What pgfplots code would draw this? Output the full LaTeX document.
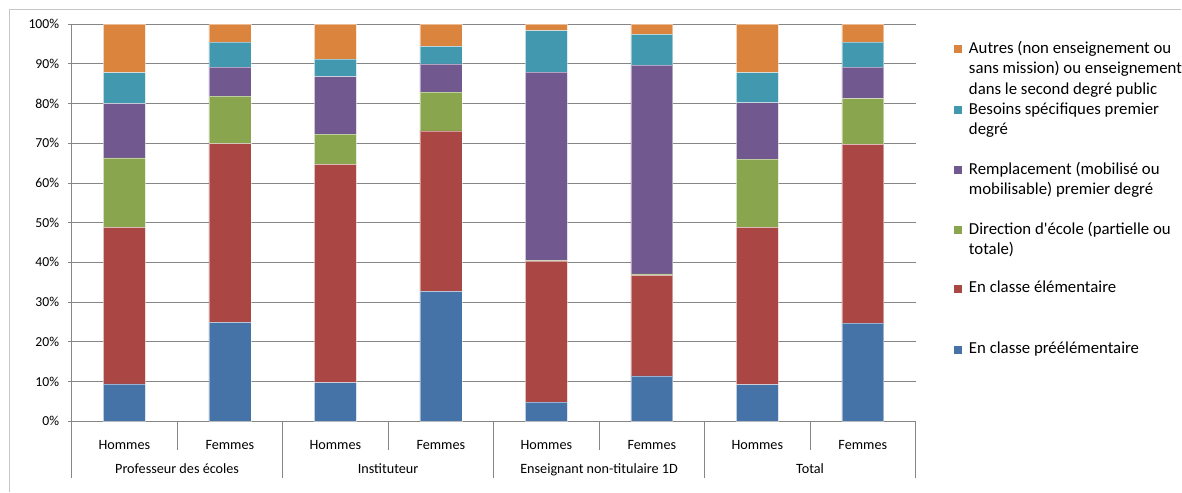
\documentclass[border=0pt]{standalone}
\usepackage{pgfplots}
\usepackage{pgfplotstable}
\pgfplotsset{compat=1.18}
\usepackage{fontspec}
\setmainfont{Carlito}

\definecolor{cBlue}{HTML}{4572A7}
\definecolor{cRed}{HTML}{AA4643}
\definecolor{cGreen}{HTML}{89A54E}
\definecolor{cPurple}{HTML}{71588F}
\definecolor{cTeal}{HTML}{4198AF}
\definecolor{cOrange}{HTML}{DB843D}
\definecolor{axgray}{HTML}{868686}

% pre, elem, direction, remplacement, besoins, autres
\pgfplotstableread{
x pre elem dir remp bes aut
0 9.4  39.4 17.5 13.7 7.8  12.2
1 24.9 45.0 12.0 7.3  6.3  4.5
2 9.7  55.0 7.6  14.5 4.4  8.8
3 32.7 40.4 9.8  7.1  4.4  5.6
4 4.8  35.5 0.2  47.4 10.5 1.6
5 11.4 25.3 0.4  52.6 7.7  2.6
6 9.2  39.6 17.2 14.2 7.6  12.2
7 24.7 45.0 11.6 7.9  6.3  4.5
}\datatable

\begin{document}
\begin{tikzpicture}
\path (-71.7pt,-71.3pt) rectangle (1110.3pt,421.7pt);
\draw[gray!45, line width=0.8pt] (-62.7pt,-71.3pt) -- (-62.7pt,412.7pt) -- (1110.3pt,412.7pt);
\begin{axis}[
  at={(0pt,0pt)}, anchor=south west,
  scale only axis, width=845pt, height=397.5pt,
  clip=false,
  ybar stacked, bar width=42pt,
  xmin=-0.5, xmax=7.5, ymin=0, ymax=100,
  axis lines*=left,
  axis line style={axgray, line width=0.8pt},
  xtick={0,...,7},
  xticklabels={Hommes,Femmes,Hommes,Femmes,Hommes,Femmes,Hommes,Femmes},
  x tick style={draw=none},
  xticklabel style={anchor=base, yshift=-24pt, font=\fontsize{14.2}{16}\selectfont},
  ytick={0,10,...,100},
  yticklabel={\pgfmathprintnumber{\tick}\%},
  /pgf/number format/assume math mode=true,
  yticklabel style={font=\fontsize{13.7}{15}\selectfont, xshift=-5pt},
  y tick style={axgray, line width=0.8pt},
  tick align=outside, major tick length=4pt,
  ymajorgrids, grid style={axgray, line width=0.8pt},
  every axis plot/.append style={draw=white, draw opacity=0.45, line width=0.6pt},
]
\addplot[fill=cBlue] table[x=x,y=pre] {\datatable};
\addplot[fill=cRed] table[x=x,y=elem] {\datatable};
\addplot[fill=cGreen] table[x=x,y=dir] {\datatable};
\addplot[fill=cPurple] table[x=x,y=remp] {\datatable};
\addplot[fill=cTeal] table[x=x,y=bes] {\datatable};
\addplot[fill=cOrange] table[x=x,y=aut] {\datatable};
% separators of the two-level category axis
\draw[axgray, line width=0.8pt] (axis cs:0.5,0) -- (axis cs:0.5,-7.17);
\draw[axgray, line width=0.8pt] (axis cs:2.5,0) -- (axis cs:2.5,-7.17);
\draw[axgray, line width=0.8pt] (axis cs:4.5,0) -- (axis cs:4.5,-7.17);
\draw[axgray, line width=0.8pt] (axis cs:6.5,0) -- (axis cs:6.5,-7.17);
\draw[axgray, line width=0.8pt] (axis cs:-0.5,0) -- (axis cs:-0.5,-14.34);
\draw[axgray, line width=0.8pt] (axis cs:1.5,0) -- (axis cs:1.5,-14.34);
\draw[axgray, line width=0.8pt] (axis cs:3.5,0) -- (axis cs:3.5,-14.34);
\draw[axgray, line width=0.8pt] (axis cs:5.5,0) -- (axis cs:5.5,-14.34);
\draw[axgray, line width=0.8pt] (axis cs:7.5,0) -- (axis cs:7.5,-14.34);
\node[anchor=base, inner sep=0pt, font=\fontsize{14.2}{16}\selectfont] at (axis cs:0.5,-13.08) {Professeur des écoles};
\node[anchor=base, inner sep=0pt, font=\fontsize{14.2}{16}\selectfont] at (axis cs:2.5,-13.08) {Instituteur};
\node[anchor=base, inner sep=0pt, font=\fontsize{14.2}{16}\selectfont] at (axis cs:4.5,-13.08) {Enseignant non-titulaire 1D};
\node[anchor=base, inner sep=0pt, font=\fontsize{14.2}{16}\selectfont] at (axis cs:6.5,-13.08) {Total};
\end{axis}
% legend
\begin{scope}[every node/.style={anchor=base west, inner sep=0pt, font=\fontsize{16.8}{20}\selectfont}]
\fill[cOrange] (883.3pt,368.4pt) rectangle ++(8.3pt,8.3pt);
\node at (898.3pt,368.4pt) {Autres (non enseignement ou};
\node at (898.3pt,347.9pt) {sans mission) ou enseignement};
\node at (898.3pt,327.4pt) {dans le second degré public};
\fill[cTeal] (883.3pt,307.4pt) rectangle ++(8.3pt,8.3pt);
\node at (898.3pt,307.4pt) {Besoins spécifiques premier};
\node at (898.3pt,286.9pt) {degré};
\fill[cPurple] (883.3pt,247.4pt) rectangle ++(8.3pt,8.3pt);
\node at (898.3pt,247.4pt) {Remplacement (mobilisé ou};
\node at (898.3pt,226.9pt) {mobilisable) premier degré};
\fill[cGreen] (883.3pt,187.4pt) rectangle ++(8.3pt,8.3pt);
\node at (898.3pt,187.4pt) {Direction d\textquotesingle école (partielle ou};
\node at (898.3pt,166.9pt) {totale)};
\fill[cRed] (883.3pt,128.4pt) rectangle ++(8.3pt,8.3pt);
\node at (898.3pt,128.4pt) {En classe élémentaire};
\fill[cBlue] (883.3pt,67.4pt) rectangle ++(8.3pt,8.3pt);
\node at (898.3pt,67.4pt) {En classe préélémentaire};
\end{scope}
\end{tikzpicture}
\end{document}
